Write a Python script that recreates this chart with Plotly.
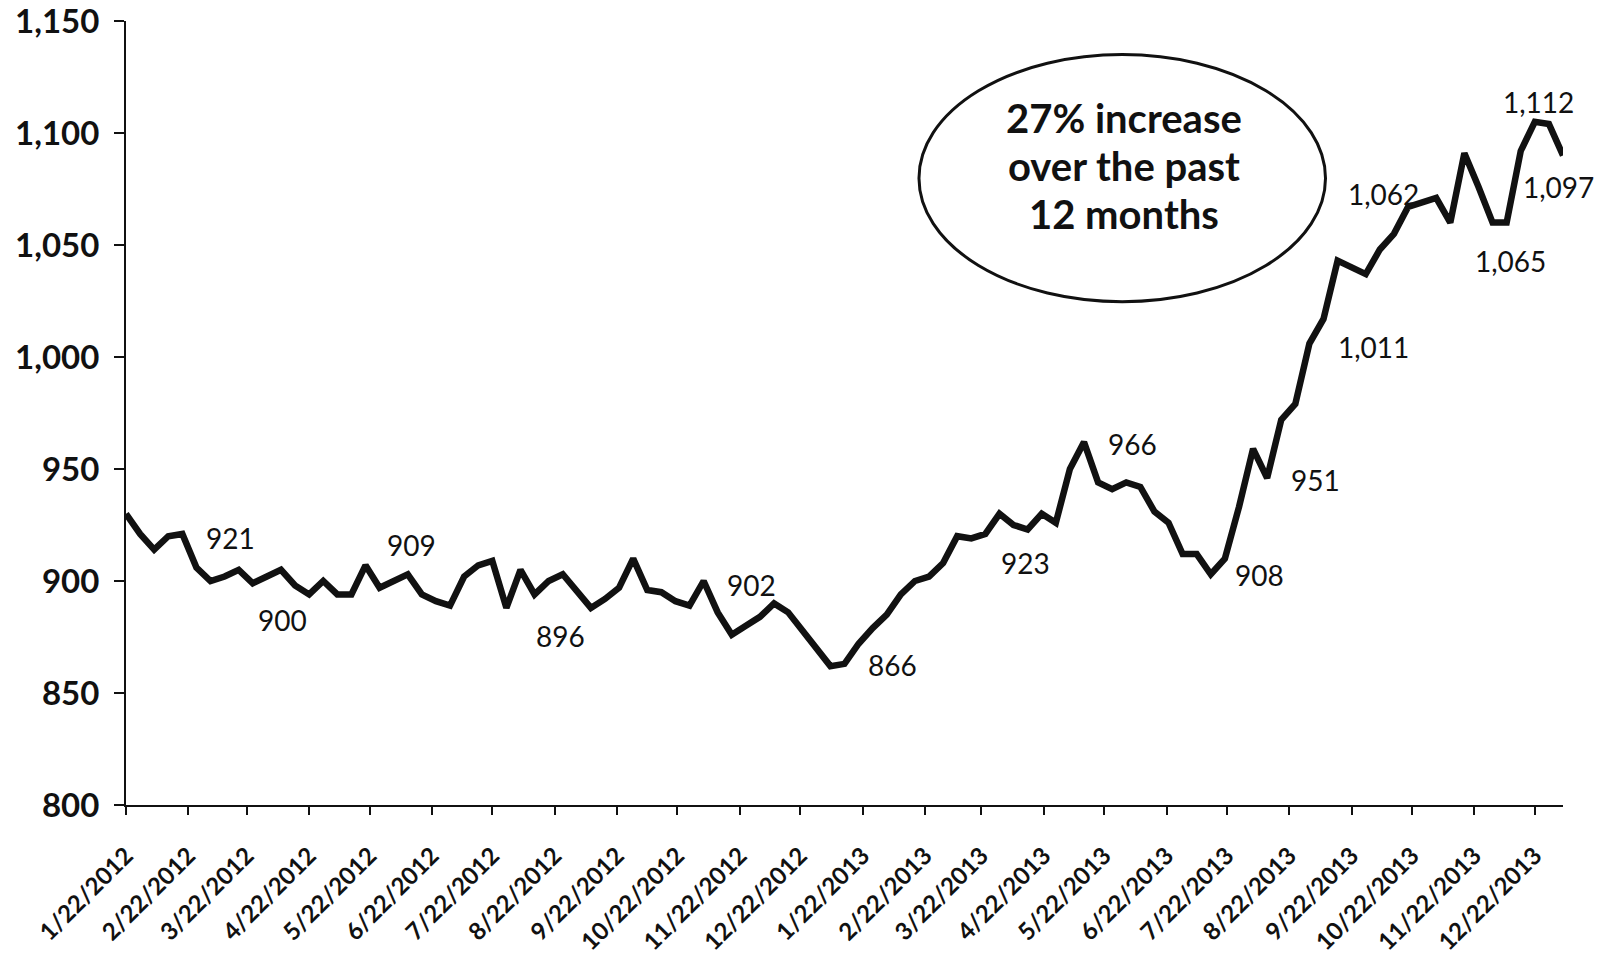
import pandas as pd
import plotly.graph_objects as go

# ---- data (weekly values) ----
start_date = "2012-01-22"
values = [
    930, 921, 914, 920, 921, 906, 900, 902, 905, 899,
    902, 905, 898, 894, 900, 894, 894, 907, 897, 900,
    903, 894, 891, 889, 902, 907, 909, 888, 905, 894,
    900, 903, 896, 888, 892, 897, 910, 896, 895, 891,
    889, 900, 886, 876, 880, 884, 890, 886, 878, 870,
    862, 863, 872, 879, 885, 894, 900, 902, 908, 920,
    919, 921, 930, 925, 923, 930, 926, 950, 962, 944,
    941, 944, 942, 931, 926, 912, 912, 903, 910, 933,
    959, 946, 972, 979, 1006, 1017, 1043, 1040, 1037, 1048,
    1055, 1067, 1069, 1071, 1060, 1091, 1076, 1060, 1060, 1092,
    1105, 1104, 1090,
]
dates = pd.date_range(start_date, periods=len(values), freq="7D")

tick_labels = [
    "1/22/2012", "2/22/2012", "3/22/2012", "4/22/2012", "5/22/2012", "6/22/2012",
    "7/22/2012", "8/22/2012", "9/22/2012", "10/22/2012", "11/22/2012", "12/22/2012",
    "1/22/2013", "2/22/2013", "3/22/2013", "4/22/2013", "5/22/2013", "6/22/2013",
    "7/22/2013", "8/22/2013", "9/22/2013", "10/22/2013", "11/22/2013", "12/22/2013",
]
tick_dates = [pd.to_datetime(t, format="%m/%d/%Y") for t in tick_labels]
y_ticks = [800, 850, 900, 950, 1000, 1050, 1100, 1150]

# callout labels written on the chart
label_texts = ["921", "900", "909", "896", "902", "866", "923", "966", "908", "951",
               "1,011", "1,062", "1,065", "1,112", "1,097"]
label_dates = ["2012-03-14", "2012-04-09", "2012-06-12", "2012-08-25", "2012-11-28",
               "2013-02-06", "2013-04-13", "2013-06-05", "2013-08-07", "2013-09-04",
               "2013-10-03", "2013-10-08", "2013-12-10", "2013-12-24", "2014-01-03"]
label_levels = [919.4, 882.6, 916.1, 875.4, 898.2, 862.5, 908.0, 961.2, 902.7, 945.1,
                1004.6, 1072.9, 1043.0, 1114.0, 1076.1]

callout_lines = ["27% increase", "over the past", "12 months"]

FONT = "Lato"
INK = "#111111"

fig = go.Figure()
fig.add_trace(go.Scatter(
    x=dates, y=values, mode="lines",
    line=dict(color=INK, width=6.5, shape="linear"),
    hoverinfo="x+y", showlegend=False,
))

for t, d, lv in zip(label_texts, label_dates, label_levels):
    fig.add_annotation(x=d, y=lv, text=t, showarrow=False,
                       font=dict(family=FONT, size=28, color=INK),
                       xanchor="center", yanchor="middle")

# ellipse callout
fig.add_shape(type="circle", xref="x", yref="y",
              x0="2013-02-19", x1="2013-09-09", y0=1024.7, y1=1135.0,
              line=dict(color=INK, width=3), fillcolor="rgba(0,0,0,0)", layer="above")
for i, line_text in enumerate(callout_lines):
    fig.add_annotation(x="2013-06-01", y=1085.4, text=line_text, showarrow=False,
                       yshift=(1 - i) * 48,
                       font=dict(family=FONT, size=40, color=INK, weight="bold"),
                       align="center", xanchor="center", yanchor="middle")

fig.update_layout(
    width=1602, height=954,
    margin=dict(l=126, r=39, t=21, b=149),
    paper_bgcolor="white", plot_bgcolor="white",
    font=dict(family=FONT, color=INK),
)
fig.update_xaxes(
    type="date", automargin=False,
    range=[dates[0], dates[-1]],
    tickvals=tick_dates, ticktext=tick_labels, tickangle=-45,
    tickfont=dict(family=FONT, size=24, color=INK, weight="bold"),
    showline=True, linecolor=INK, linewidth=2,
    ticks="outside", ticklen=8, tickwidth=1.5, tickcolor=INK,
    ticklabelstandoff=17, ticklabeloverflow="allow",
    showgrid=False, zeroline=False,
)
fig.update_yaxes(
    automargin=False,
    range=[800, 1150], tickvals=y_ticks, tickformat=",",
    tickfont=dict(family=FONT, size=33, color=INK, weight="bold"),
    showline=True, linecolor=INK, linewidth=2,
    ticks="outside", ticklen=10, tickwidth=1.5, tickcolor=INK,
    ticklabelstandoff=8, ticklabeloverflow="allow",
    showgrid=False, zeroline=False,
)

# remove the page's default body margin so the figure sits at the window's corner
fig.write_html(
    "out.html",
    config={"displayModeBar": False},
    post_script="document.body.style.margin='0';document.body.style.overflow='hidden';",
)
